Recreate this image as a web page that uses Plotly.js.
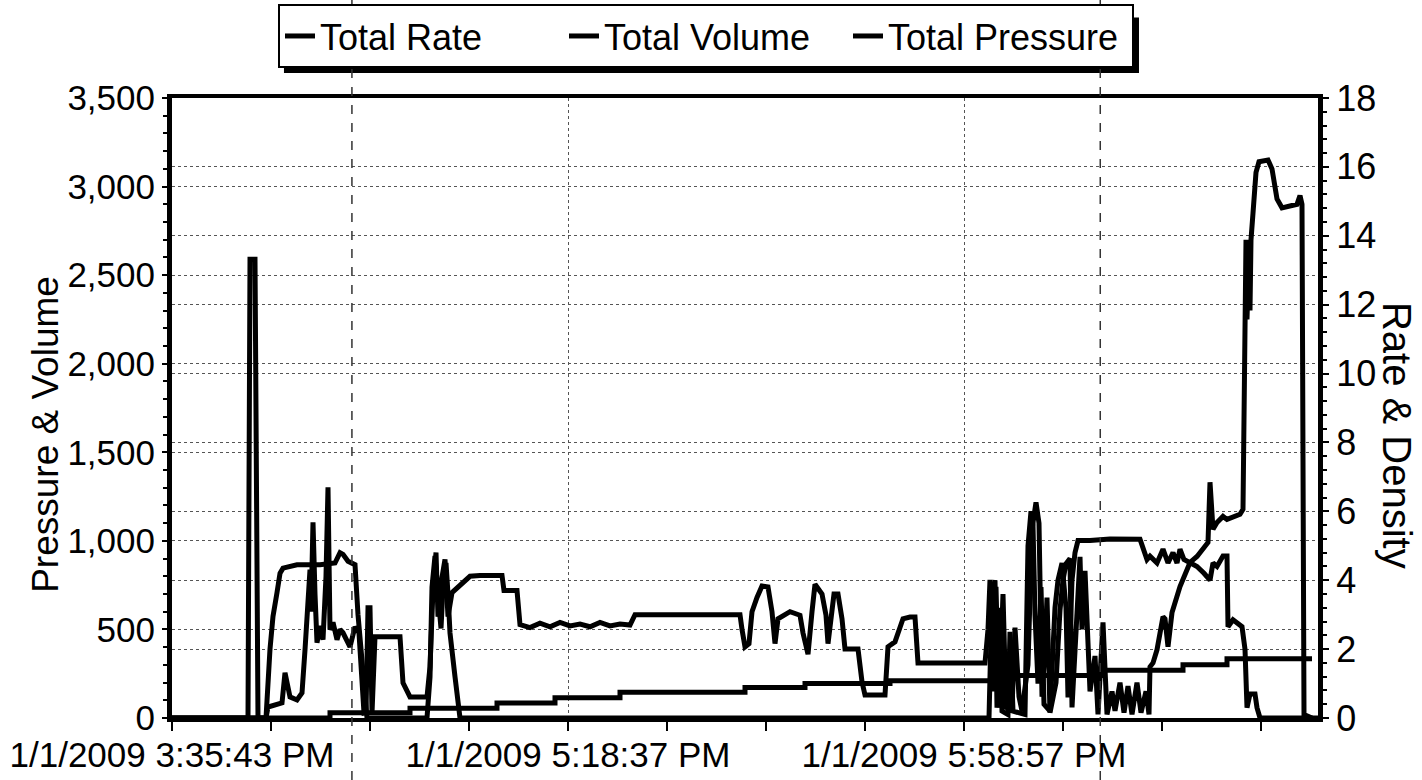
<!DOCTYPE html>
<html>
<head>
<meta charset="utf-8">
<script src="https://cdn.plot.ly/plotly-3.0.1.min.js"></script>
<style>
html,body{margin:0;padding:0;background:#fff;}
#chart{width:1422px;height:780px;}
</style>
</head>
<body>
<div id="chart"></div>
<script>
// sample index along the record (ticks every 99 samples)
const tickSamples = [0, 396, 792];
const tickLabels = ["1/1/2009 3:35:43 PM", "1/1/2009 5:18:37 PM", "1/1/2009 5:58:57 PM"];
const leftTitle = "Pressure & Volume";
const rightTitle = "Rate & Density";

// Total Pressure (left axis)
const pressureX = [0,76,78,83,86,94,96,110,113,116,118,125,130,133,136,138,139,141,143,145,148,151,154,156,158,161,165,168,171,175,178,181,183,187,190,192,194,196,198,200,203,228,231,238,255,258,261,264,266,269,273,276,280,286,291,298,308,330,332,345,348,358,368,378,388,398,408,418,428,438,448,458,463,568,570,573,577,580,585,590,596,600,603,606,618,628,631,636,640,643,650,654,656,659,662,666,670,673,686,690,693,713,716,723,731,738,743,746,813,816,818,821,824,827,831,834,840,843,847,850,856,860,864,867,870,873,875,878,884,888,891,894,898,900,904,908,910,913,918,923,926,931,935,940,943,948,952,956,960,965,969,974,977,978,981,985,991,993,996,1000,1008,1018,1025,1031,1036,1038,1041,1045,1051,1055,1061,1068,1071,1072,1074,1075,1077,1078,1079,1081,1084,1087,1096,1100,1105,1110,1125,1128,1130,1132,1140];
const pressureY = [0,0,2590,2590,0,0,62,85,255,175,119,102,142,385,668,838,600,1104,700,425,520,442,800,1302,498,540,442,500,481,430,402,470,515,480,200,28,30,623,623,28,459,459,198,119,119,289,725,934,572,760,895,572,708,740,765,800,805,805,720,720,527,510,535,515,540,520,530,515,540,520,530,525,583,583,500,402,420,600,680,745,740,600,420,560,600,580,480,360,600,755,700,580,420,560,700,700,560,390,390,204,130,130,402,430,560,570,570,311,311,500,780,150,740,60,700,60,50,510,120,40,300,1065,1217,1100,120,400,680,30,200,610,780,870,900,60,500,910,500,830,150,350,20,540,20,150,40,200,30,180,20,200,30,150,20,289,311,385,572,560,402,595,742,878,912,951,991,1331,1065,1104,1138,1121,1138,1150,1178,1700,2700,2250,2650,2300,2700,2850,3080,3140,3150,3100,2930,2880,2900,2950,2900,20,0];

// Total Rate (right axis)
const rateX = [0,94,98,101,105,108,111,125,148,163,168,171,176,180,183,186,190,195,255,258,260,263,266,269,271,274,276,278,283,288,813,817,820,823,825,828,830,836,838,841,853,856,859,861,863,866,869,872,878,883,886,890,894,896,900,903,906,918,938,966,968,975,978,985,991,996,1001,1005,1008,1012,1018,1025,1032,1038,1041,1045,1051,1055,1056,1061,1070,1073,1075,1078,1083,1085,1088,1146];
const rateY = [0,0,2.0,2.95,3.64,4.2,4.35,4.45,4.45,4.5,4.8,4.75,4.55,4.5,4.45,3.0,1.5,0,0,1.19,3.8,4.7,3.6,2.6,3.8,4.5,3.6,2.47,1.2,0,0,0,3.6,4.0,0.3,3.2,0.2,0.1,2.5,0.2,0.1,5.0,6.0,5.6,3.0,1.0,3.8,0.4,0.2,3.2,4.0,4.5,3.2,0.6,4.0,4.8,5.15,5.15,5.2,5.2,5.19,4.6,4.7,4.5,4.9,4.5,4.8,4.5,4.9,4.6,4.5,4.4,4.2,4.0,4.5,4.4,4.7,4.7,2.65,2.85,2.65,2.0,0.3,0.7,0.7,0.3,0,0];

// Total Volume (left axis), stepped
const volumeX = [0,158,238,325,383,448,573,633,718,828,931,1011,1055,1140];
const volumeY = [0,30,55,85,115,145,172,195,210,240,270,300,335,335];

const FONT = "Liberation Sans, Arial, Helvetica, sans-serif";

const traces = [
  {name: "Total Rate", x: rateX, y: rateY, yaxis: "y2", type: "scatter", mode: "lines",
   line: {color: "#000", width: 5}},
  {name: "Total Volume", x: volumeX, y: volumeY, yaxis: "y", type: "scatter", mode: "lines",
   line: {color: "#000", width: 5, shape: "hv"}},
  {name: "Total Pressure", x: pressureX, y: pressureY, yaxis: "y", type: "scatter", mode: "lines",
   line: {color: "#000", width: 5}}
];

const layout = {
  width: 1422, height: 780,
  margin: {l: 172, r: 104, t: 98, b: 62, autoexpand: false},
  paper_bgcolor: "#fff", plot_bgcolor: "#fff",
  font: {family: FONT, color: "#000"},
  showlegend: true,
  legend: {
    orientation: "h", x: 0.0925, y: 1.1515, xanchor: "left", yanchor: "top",
    font: {family: FONT, size: 36, color: "#000"},
    bgcolor: "#fff", bordercolor: "#000", borderwidth: 2,
    entrywidth: 239, entrywidthmode: "pixels", itemwidth: 30
  },
  xaxis: {
    range: [0, 1146], showgrid: true, gridcolor: "#555", griddash: "dot", gridwidth: 1,
    tickmode: "array", tickvals: tickSamples, ticktext: tickLabels,
    ticks: "outside", ticklen: 9, tickwidth: 2, tickcolor: "#000",
    ticklabelstandoff: -6,
    tickfont: {family: FONT, size: 35, color: "#000"},
    minor: {dtick: 99, tick0: 0, ticks: "outside", ticklen: 9, tickwidth: 2, tickcolor: "#000", showgrid: false},
    showline: true, linecolor: "#000", linewidth: 4, mirror: true, zeroline: false
  },
  yaxis: {
    range: [0, 3500], dtick: 500, tickformat: ",d",
    showgrid: true, gridcolor: "#555", griddash: "dot", gridwidth: 1,
    ticks: "outside", ticklen: 5, tickwidth: 2, tickcolor: "#000",
    minor: {dtick: 100, ticks: "outside", ticklen: 4, tickwidth: 2, tickcolor: "#000", showgrid: false},
    tickfont: {family: FONT, size: 35, color: "#000"},
    showline: true, linecolor: "#000", linewidth: 5, zeroline: false
  },
  yaxis2: {
    range: [0, 18], dtick: 2, overlaying: "y", side: "right", anchor: "x",
    showgrid: true, gridcolor: "#555", griddash: "dot", gridwidth: 1,
    ticks: "outside", ticklen: 6, tickwidth: 2, tickcolor: "#000",
    minor: {dtick: 0.4, ticks: "outside", ticklen: 4, tickwidth: 2, tickcolor: "#000", showgrid: false},
    tickfont: {family: FONT, size: 36, color: "#000"},
    showline: true, linecolor: "#000", linewidth: 5, zeroline: false
  },
  annotations: [
    {text: leftTitle, xref: "paper", yref: "paper", x: -0.111, y: 0.458,
     xanchor: "center", yanchor: "middle", textangle: -90, showarrow: false,
     font: {family: FONT, size: 37, color: "#000"}},
    {text: rightTitle, xref: "paper", yref: "paper", x: 1.0689, y: 0.455,
     xanchor: "center", yanchor: "middle", textangle: 90, showarrow: false,
     font: {family: FONT, size: 40, color: "#000"}}
  ],
  shapes: [
    // legend drop shadow
    {type: "rect", xref: "paper", yref: "paper", x0: 0.0977, x1: 0.8438, y0: 1.0403, y1: 1.13,
     fillcolor: "#000", line: {width: 0}, layer: "above"},
    // scan fold lines
    {type: "line", xref: "paper", yref: "paper", x0: 0.157, x1: 0.157, y0: -0.1, y1: 1.16,
     line: {color: "#333", width: 1.5, dash: "dash"}, layer: "above"},
    {type: "line", xref: "paper", yref: "paper", x0: 0.81, x1: 0.81, y0: -0.1, y1: 1.16,
     line: {color: "#333", width: 1.5, dash: "dash"}, layer: "above"}
  ]
};

Plotly.newPlot("chart", traces, layout, {displayModeBar: false, staticPlot: true});
</script>
</body>
</html>
